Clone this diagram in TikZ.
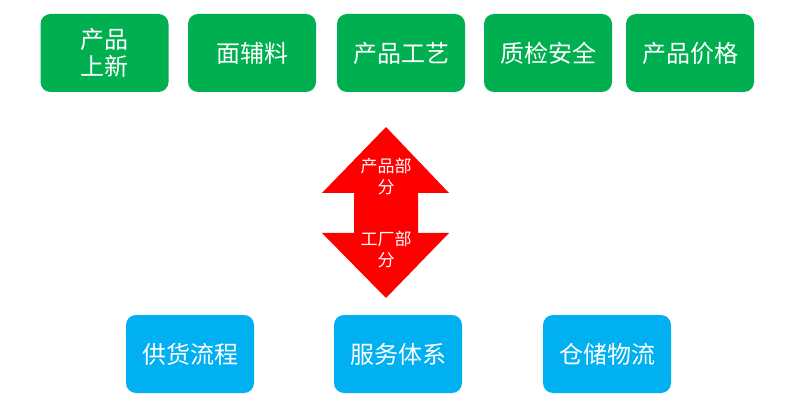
\documentclass[tikz,border=0pt]{standalone}
\usepackage{fontspec}
\setmainfont{Noto Sans CJK SC}
\definecolor{gbox}{HTML}{00B050}
\definecolor{bbox}{HTML}{00B0F0}
\definecolor{rarr}{HTML}{FF0000}
\begin{document}
\begin{tikzpicture}[x=1pt,y=-1pt,
  box/.style={rounded corners=10pt,minimum width=128pt,minimum height=78pt,inner sep=0pt,text=white,font=\fontsize{24}{27}\selectfont,align=center},
  gbx/.style={box,fill=gbox},
  bbx/.style={box,fill=bbox},
  albl/.style={text=white,font=\fontsize{17}{21}\selectfont,align=center,inner sep=0pt}]
\useasboundingbox (0,0) rectangle (790,414);
\node[gbx] (a1) at (104.5,53) {产品\\上新};
\node[gbx] (a2) at (252,53) {面辅料};
\node[gbx] (a3) at (401,53) {产品工艺};
\node[gbx] (a4) at (548,53) {质检安全};
\node[gbx] (a5) at (690,53) {产品价格};
\node[bbx] (b1) at (190,354) {供货流程};
\node[bbx] (b2) at (398,354) {服务体系};
\node[bbx] (b3) at (607,354) {仓储物流};
\fill[rarr] (386,127) -- (449,193) -- (418,193) -- (418,233) -- (449,233) -- (386,298)
  -- (322,233) -- (354,233) -- (354,193) -- (322,193) -- cycle;
\node[albl] (t1) at (386,177) {产品部\\分};
\node[albl] (t2) at (386,250) {工厂部\\分};
\end{tikzpicture}
\end{document}
